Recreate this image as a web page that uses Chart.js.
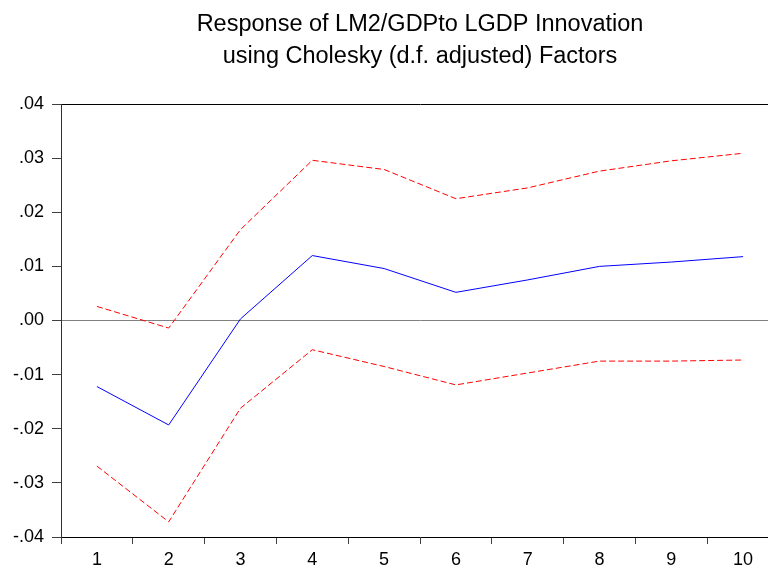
<!DOCTYPE html>
<html>
<head>
<meta charset="utf-8">
<script src="https://cdn.jsdelivr.net/npm/chart.js@4/dist/chart.umd.min.js"></script>
<style>
  html, body { margin: 0; padding: 0; overflow: hidden; background: #fff; }
  #wrap { position: relative; width: 779px; height: 569px; }
</style>
</head>
<body>
<div id="wrap"><canvas id="irf"></canvas></div>
<script>
// Impulse response periods
const periods = ['1', '2', '3', '4', '5', '6', '7', '8', '9', '10'];

// Response of LM2/GDP to a one-s.d. LGDP innovation
const response = [-0.0122, -0.0193, 0.0003, 0.0120, 0.0096, 0.0052, 0.0075, 0.0100, 0.0108, 0.0118];

// +/- 2 S.E. bands
const upperBand = [0.0026, -0.0014, 0.0168, 0.0296, 0.0279, 0.0225, 0.0245, 0.0276, 0.0295, 0.0309];
const lowerBand = [-0.0269, -0.0372, -0.0162, -0.0054, -0.0085, -0.0119, -0.0097, -0.0075, -0.0075, -0.0073];

// Value axis tick positions
const yTicks = [-0.04, -0.03, -0.02, -0.01, 0.00, 0.01, 0.02, 0.03, 0.04];

const titleLines = [
  'Response of LM2/GDPto LGDP Innovation',
  'using Cholesky (d.f. adjusted) Factors'
];

const FONT = "Arial, 'Liberation Sans', Helvetica, sans-serif";

function fmtTick(v) {
  const s = Math.abs(v).toFixed(2).replace(/^0/, '');
  return (v < -1e-9 ? '-' : '') + s;
}

new Chart(document.getElementById('irf'), {
  type: 'line',
  data: {
    labels: periods,
    datasets: [
      {
        data: response,
        borderColor: '#0000ff',
        borderWidth: 1,
        pointRadius: 0,
        tension: 0,
        fill: false
      },
      {
        data: upperBand,
        borderColor: '#ff0000',
        borderWidth: 1,
        borderDash: [6, 3],
        pointRadius: 0,
        tension: 0,
        fill: false
      },
      {
        data: lowerBand,
        borderColor: '#ff0000',
        borderWidth: 1,
        borderDash: [6, 3],
        pointRadius: 0,
        tension: 0,
        fill: false
      }
    ]
  },
  options: {
    responsive: true,
    maintainAspectRatio: false,
    devicePixelRatio: 1,
    animation: false,
    events: [],
    layout: { padding: 0 },
    plugins: {
      legend: { display: false },
      tooltip: { enabled: false },
      title: {
        display: true,
        fullSize: false,
        text: titleLines,
        color: '#000',
        font: { family: FONT, size: 23.5, weight: 'normal', lineHeight: 32 / 23.5 },
        padding: { top: 9, bottom: 31 }
      }
    },
    scales: {
      x: {
        type: 'category',
        position: 'bottom',
        offset: true,
        afterFit: s => { s.height = 32; },
        grid: {
          offset: true,
          drawOnChartArea: false,
          drawTicks: true,
          tickLength: 7,
          tickColor: '#404040'
        },
        border: { display: true, color: '#000', width: 1 },
        ticks: {
          color: '#000',
          font: { family: FONT, size: 18 },
          padding: 5,
          maxRotation: 0,
          autoSkip: false
        }
      },
      xTop: {
        type: 'category',
        position: 'top',
        offset: true,
        afterFit: s => { s.height = 0; },
        grid: { display: false },
        ticks: { display: false },
        border: { display: true, color: '#000', width: 1 }
      },
      y: {
        min: -0.04,
        max: 0.04,
        afterFit: s => { s.width = 61; },
        afterBuildTicks: s => { s.ticks = yTicks.map(v => ({ value: v })); },
        grid: {
          drawOnChartArea: true,
          drawTicks: true,
          tickLength: 9,
          color: c => (c.tick && Math.abs(c.tick.value) < 1e-9) ? '#808080' : 'rgba(0,0,0,0)',
          tickColor: '#404040'
        },
        border: { display: true, color: '#303030', width: 1 },
        ticks: {
          color: '#000',
          font: { family: FONT, size: 18 },
          padding: 8,
          callback: v => fmtTick(v)
        }
      }
    }
  }
});
</script>
</body>
</html>
